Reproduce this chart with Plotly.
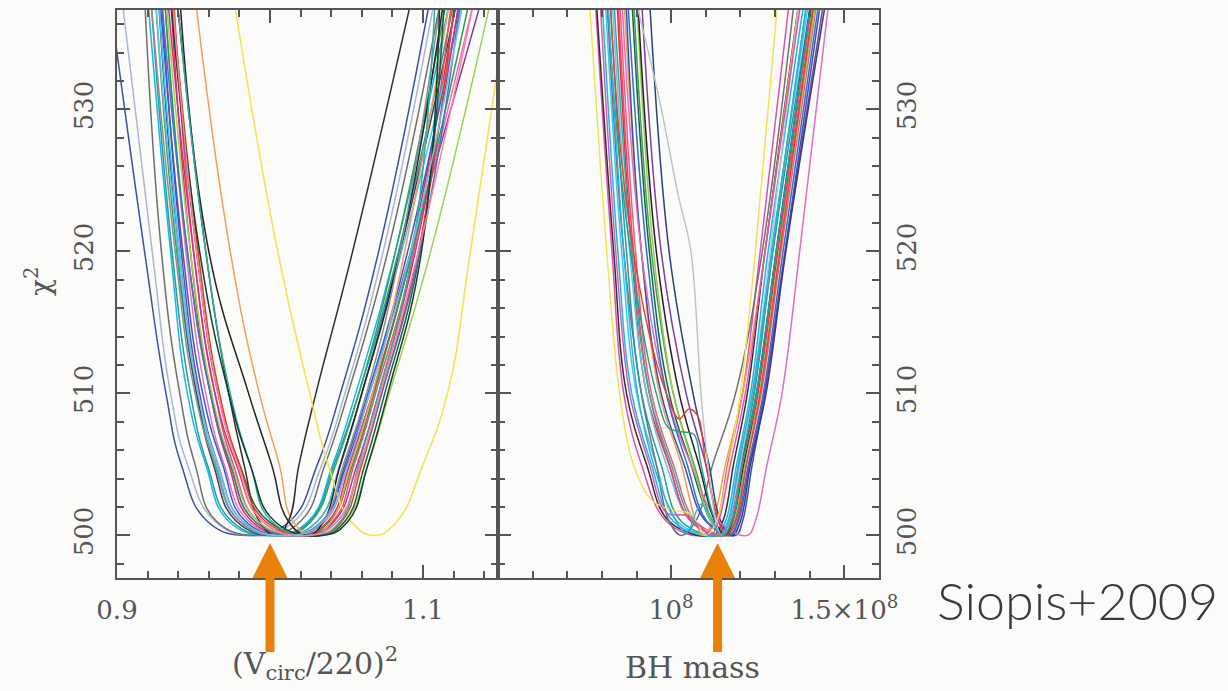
import plotly.graph_objects as go

# chi^2 levels at which each curve's position was read (left arm -> minimum -> right arm)
LEVELS = [538, 520, 510, 505, 501, 500, 501, 505, 510, 520, 538]

# ---------- Left panel: (V_circ/220)^2 ----------
L01 = [0.895, 0.918, 0.932, 0.942, 0.959, 0.986, 1.013, 1.031, 1.046, 1.071, 1.105]
L02 = [0.903, 0.923, 0.935, 0.946, 0.964, 0.990, 1.016, 1.034, 1.049, 1.074, 1.108]
L03 = [0.918, 0.929, 0.941, 0.951, 0.965, 0.995, 1.020, 1.036, 1.051, 1.077, 1.112]
L04 = [0.920, 0.935, 0.946, 0.958, 0.973, 1.001, 1.025, 1.041, 1.056, 1.082, 1.118]
L05 = [0.922, 0.936, 0.948, 0.959, 0.975, 1.004, 1.026, 1.042, 1.058, 1.084, 1.121]
L06 = [0.925, 0.939, 0.952, 0.964, 0.980, 1.008, 1.027, 1.043, 1.058, 1.082, 1.116]
L07 = [0.927, 0.940, 0.952, 0.963, 0.978, 1.007, 1.031, 1.046, 1.060, 1.085, 1.123]
L08 = [0.929, 0.942, 0.954, 0.966, 0.982, 1.010, 1.034, 1.050, 1.065, 1.092, 1.139]
L09 = [0.931, 0.945, 0.958, 0.970, 0.986, 1.014, 1.036, 1.051, 1.067, 1.093, 1.134]
L10 = [0.935, 0.948, 0.961, 0.973, 0.988, 1.017, 1.038, 1.052, 1.067, 1.092, 1.122]
L11 = [0.937, 0.950, 0.964, 0.976, 0.992, 1.020, 1.041, 1.055, 1.069, 1.094, 1.119]
L12 = [0.928, 0.943, 0.956, 0.969, 0.984, 1.014, 1.035, 1.049, 1.064, 1.090, 1.125]
L13 = [0.927, 0.941, 0.953, 0.965, 0.980, 1.009, 1.031, 1.046, 1.060, 1.086, 1.127]
L14 = [0.931, 0.946, 0.961, 0.974, 0.990, 1.020, 1.039, 1.054, 1.068, 1.093, 1.131]
L15 = [0.933, 0.950, 0.964, 0.978, 0.995, 1.023, 1.042, 1.057, 1.071, 1.095, 1.124]
L16 = [0.951, 0.974, 0.993, 1.006, 1.015, 1.028, 1.040, 1.053, 1.067, 1.088, 1.118]
L17 = [0.941, 0.960, 0.986, 1.001, 1.012, 1.025, 1.035, 1.046, 1.060, 1.085, 1.114]
L18 = [0.939, 0.958, 0.973, 0.983, 0.993, 1.004, 1.012, 1.019, 1.030, 1.054, 1.093]
L19 = [0.976, 1.005, 1.026, 1.038, 1.053, 1.068, 1.083, 1.100, 1.116, 1.131, 1.156]
L20 = [0.932, 0.948, 0.962, 0.975, 0.992, 1.026, 1.049, 1.064, 1.078, 1.105, 1.145]
L21 = [0.935, 0.952, 0.966, 0.980, 0.999, 1.033, 1.049, 1.062, 1.075, 1.098, 1.114]
L22 = [0.922, 0.938, 0.951, 0.964, 0.980, 1.012, 1.034, 1.048, 1.063, 1.085, 1.112]
L23 = [0.936, 0.953, 0.967, 0.980, 0.997, 1.031, 1.047, 1.060, 1.073, 1.097, 1.121]
L24 = [0.929, 0.946, 0.961, 0.974, 0.990, 1.023, 1.044, 1.059, 1.073, 1.098, 1.125]
L25 = [0.939, 0.958, 0.974, 0.987, 1.001, 1.029, 1.046, 1.058, 1.071, 1.093, 1.108]
L26 = [0.935, 0.954, 0.973, 0.987, 1.003, 1.034, 1.051, 1.064, 1.077, 1.099, 1.111]
L27 = [0.925, 0.940, 0.953, 0.966, 0.982, 1.013, 1.035, 1.051, 1.065, 1.092, 1.127]
L28 = [0.936, 0.952, 0.966, 0.979, 0.995, 1.025, 1.044, 1.059, 1.072, 1.097, 1.134]

LEFT_CURVES = [L01, L02, L03, L04, L05, L06, L07, L08, L09, L10, L11, L12, L13, L14,
               L15, L16, L17, L18, L19, L20, L21, L22, L23, L24, L25, L26, L27, L28]
LEFT_COLORS = ["#3b4fa6", "#a9b8d0", "#6f6f6f", "#1fb4e6", "#1f9ea0", "#2fa65e",
               "#3e3e5e", "#7d3f9e", "#ef6fbf", "#e0303f", "#f0505f", "#2f5fcf",
               "#3fc6ef", "#1f9f4f", "#cf2f8f", "#f0a060", "#2a2020", "#303030",
               "#f2e24e", "#9fcf5f", "#1f5f3f", "#8f8f8f", "#e0401f", "#4f6fbf",
               "#2fae9f", "#0f3f2f", "#6fbfef", "#ff7f9f"]

# ---------- Right panel: BH mass (units of 1e8) ----------
R01 = [0.780, 0.829, 0.863, 0.914, 0.986, 1.086, 1.129, 1.163, 1.206, 1.257, 1.343]
R02 = [0.783, 0.834, 0.871, 0.929, 0.994, 1.120, 1.149, 1.180, 1.220, 1.271, 1.371]
R03 = [0.800, 0.846, 0.886, 0.943, 1.006, 1.129, 1.157, 1.189, 1.229, 1.280, 1.386]
R04 = [0.809, 0.857, 0.900, 0.957, 1.017, 1.137, 1.163, 1.194, 1.234, 1.289, 1.400]
R05 = [0.814, 0.863, 0.914, 0.957, 0.994, 1.029, 1.071, 1.120, 1.186, 1.263, 1.357]
R06 = [0.823, 0.871, 0.914, 0.971, 1.029, 1.143, 1.171, 1.200, 1.240, 1.294, 1.406]
R07 = [0.843, 0.886, 0.929, 0.994, 1.057, 1.157, 1.177, 1.209, 1.251, 1.309, 1.414]
R08 = [0.851, 0.897, 0.943, 1.006, 1.071, 1.166, 1.186, 1.217, 1.260, 1.317, 1.423]
R09 = [0.863, 0.914, 0.966, 1.029, 1.071, 1.091, 1.120, 1.157, 1.206, 1.271, 1.371]
R10 = [0.869, 0.914, 0.971, 1.037, 1.100, 1.186, 1.206, 1.234, 1.271, 1.329, 1.434]
R11 = [0.886, 0.937, 0.994, 1.057, 1.114, 1.149, 1.171, 1.203, 1.246, 1.303, 1.406]
R12 = [0.891, 0.943, 1.006, 1.066, 1.120, 1.160, 1.183, 1.211, 1.251, 1.311, 1.417]
R13 = [0.914, 0.971, 1.043, 1.100, 1.137, 1.171, 1.194, 1.226, 1.269, 1.329, 1.443]
R14 = [0.937, 0.994, 1.063, 1.109, 1.143, 1.177, 1.200, 1.229, 1.274, 1.331, 1.449]
R15 = [0.857, 0.914, 0.986, 1.057, 1.137, 1.220, 1.243, 1.277, 1.320, 1.371, 1.457]
R16 = [0.829, 0.880, 0.929, 0.986, 1.057, 1.149, 1.171, 1.206, 1.249, 1.306, 1.411]
R17 = [0.900, 0.949, 1.006, 1.063, 1.114, 1.154, 1.180, 1.211, 1.254, 1.311, 1.420]
R18 = [0.874, 0.929, 0.986, 1.046, 1.103, 1.171, 1.191, 1.223, 1.266, 1.323, 1.429]
R19 = [0.903, 0.957, 1.023, 1.080, 1.126, 1.157, 1.177, 1.209, 1.249, 1.306, 1.406]
R20 = [0.846, 0.891, 0.937, 0.994, 1.057, 1.151, 1.174, 1.206, 1.249, 1.306, 1.409]
R21 = [0.834, 0.886, 0.937, 1.000, 1.063, 1.140, 1.166, 1.197, 1.237, 1.291, 1.394]

RIGHT_CURVES = [R01, R02, R03, R04, R05, R06, R07, R08, R09, R10, R11,
                R12, R13, R14, R15, R16, R17, R18, R19, R20, R21]
RIGHT_COLORS = ["#e050b0", "#303030", "#1fb4e6", "#3fc6ef", "#707070", "#1f9ea0",
                "#e0302f", "#f06070", "#f0a050", "#3a50b0", "#1f5f3f", "#2fa65e",
                "#7f3f9f", "#2f3f7f", "#e06fbf", "#6fbfef", "#9fc74f", "#2f6fcf",
                "#202020", "#ef3f7f", "#2fae9f"]

# irregular right-panel curves, read point by point (x in 1e8, chi^2)
RS_RED_X = [0.823, 0.863, 0.929, 0.986, 1.023, 1.051, 1.077, 1.100, 1.131, 1.157, 1.186, 1.217, 1.257, 1.314, 1.414]
RS_RED_Y = [538, 525, 515, 510, 508.2, 508.9, 508.4, 505, 501.5, 500, 501, 505, 510, 520, 538]
RS_TEAL_X = [0.814, 0.857, 0.914, 0.957, 0.991, 1.029, 1.066, 1.086, 1.120, 1.149, 1.177, 1.206, 1.246, 1.303, 1.406]
RS_TEAL_Y = [538, 525, 515, 510, 507.6, 507.3, 507.1, 505, 501.5, 500, 501, 505, 510, 520, 538]
RS_YELLOW_X = [0.763, 0.814, 0.851, 0.891, 0.943, 1.000, 1.057, 1.100, 1.131, 1.166, 1.200, 1.243, 1.309]
RS_YELLOW_Y = [538, 520, 510, 505, 502.5, 501.8, 501.5, 500, 501, 505, 510, 520, 538]
RS_GRAY_X = [0.894, 0.963, 1.020, 1.057, 1.086, 1.106, 1.129, 1.143, 1.166, 1.200, 1.234, 1.286, 1.371]
RS_GRAY_Y = [538, 531, 524, 520, 510, 505, 501, 500, 501, 505, 510, 520, 538]
RS_MAG_X = [0.794, 0.840, 0.880, 0.937, 0.986, 1.043, 1.086, 1.114, 1.137, 1.171, 1.214, 1.271, 1.377]
RS_MAG_Y = [538, 520, 510, 505, 501.6, 501.4, 500.6, 500, 501, 505, 510, 520, 538]
RS_CYAN_X = [0.817, 0.863, 0.903, 0.949, 0.994, 1.043, 1.086, 1.120, 1.143, 1.166, 1.194, 1.234, 1.291, 1.394]
RS_CYAN_Y = [538, 520, 510, 505, 502, 500.2, 502.2, 501, 500, 501, 505, 510, 520, 538]
RIGHT_SPECIAL = [(RS_RED_X, RS_RED_Y, "#e8402a"), (RS_TEAL_X, RS_TEAL_Y, "#1f9f8f"),
                 (RS_YELLOW_X, RS_YELLOW_Y, "#f2e24e"), (RS_GRAY_X, RS_GRAY_Y, "#b8c2cc"),
                 (RS_MAG_X, RS_MAG_Y, "#e04fb0"), (RS_CYAN_X, RS_CYAN_Y, "#30b0e0")]

# tick values / labels
LEFT_TICKS = [0.9, 1.0, 1.1]
LEFT_TICKTEXT = ["0.9", "", "1.1"]
RIGHT_TICKS = [0.5e8, 1.0e8, 1.5e8]
RIGHT_TICKTEXT = ["", "10<sup>8</sup>", "1.5×10<sup>8</sup>"]
Y_TICKS = [500, 510, 520, 530]
ARROW_X = [1.0, 1.134e8]

AX = "#555555"
TICKFONT = dict(family="DejaVu Serif", size=26, color="#555555")
fig = go.Figure()

for xs, col in zip(LEFT_CURVES, LEFT_COLORS):
    fig.add_trace(go.Scatter(x=xs, y=LEVELS, mode="lines", xaxis="x", yaxis="y",
                             line=dict(color=col, width=1.5, shape="spline", smoothing=1.3),
                             hoverinfo="skip", showlegend=False))
for xs, col in zip(RIGHT_CURVES, RIGHT_COLORS):
    fig.add_trace(go.Scatter(x=[v * 1e8 for v in xs], y=LEVELS, mode="lines", xaxis="x2", yaxis="y2",
                             line=dict(color=col, width=1.5, shape="spline", smoothing=1.1),
                             hoverinfo="skip", showlegend=False))
for xs, ys, col in RIGHT_SPECIAL:
    fig.add_trace(go.Scatter(x=[v * 1e8 for v in xs], y=ys, mode="lines", xaxis="x2", yaxis="y2",
                             line=dict(color=col, width=1.4, shape="spline", smoothing=1.0),
                             hoverinfo="skip", showlegend=False))

common = dict(showline=True, linecolor=AX, linewidth=2, mirror="ticks", ticks="inside",
              ticklen=13, tickwidth=1.5, tickcolor=AX, showgrid=False, zeroline=False,
              tickfont=TICKFONT, automargin=False)
ydom = [1 - 578 / 691, 1 - 10 / 691]
fig.update_layout(
    xaxis=dict(domain=[117 / 1228, 498 / 1228], range=[0.9, 1.149], tickvals=LEFT_TICKS,
               ticktext=LEFT_TICKTEXT, anchor="y", ticklabelstandoff=8,
               minor=dict(dtick=0.02, ticks="inside", ticklen=7, tickwidth=1.5, tickcolor=AX), **common),
    xaxis2=dict(domain=[498 / 1228, 879 / 1228], range=[0.5e8, 1.6e8], tickvals=RIGHT_TICKS,
                ticktext=RIGHT_TICKTEXT, anchor="y2", ticklabelstandoff=8,
                minor=dict(dtick=1e7, ticks="inside", ticklen=7, tickwidth=1.5, tickcolor=AX), **common),
    yaxis=dict(domain=ydom, range=[497, 537], tickvals=Y_TICKS, anchor="x", tickangle=-90,
               ticklabelstandoff=12,
               minor=dict(dtick=2, ticks="inside", ticklen=7, tickwidth=1.5, tickcolor=AX), **common),
    yaxis2=dict(domain=ydom, range=[497, 537], tickvals=Y_TICKS, anchor="x2", side="right",
                tickangle=-90, ticklabelstandoff=4,
                minor=dict(dtick=2, ticks="inside", ticklen=7, tickwidth=1.5, tickcolor=AX), **common),
    width=1228, height=691, autosize=False,
    margin=dict(l=0, r=0, t=0, b=0),
    paper_bgcolor="#fbfbf9", plot_bgcolor="#fbfbf9",
    showlegend=False,
)

arrow_path = "M -17.5 0 L 0 35 L 17.5 0 L 4.5 0 L 4.5 -74 L -4.5 -74 L -4.5 0 Z"
for xr, xa in zip(["x", "x2"], ARROW_X):
    fig.add_shape(type="path", xref=xr, yref="paper", xsizemode="pixel", ysizemode="pixel",
                  xanchor=xa, yanchor=ydom[0], path=arrow_path,
                  fillcolor="#e8800a", line=dict(width=0), layer="above")

fig.add_annotation(text="(V<sub>circ</sub>/220)<sup>2</sup>", x=315 / 1228, y=1 - 663 / 691,
                   xref="paper", yref="paper", xanchor="center", yanchor="middle", showarrow=False,
                   font=dict(family="DejaVu Serif", size=30, color="#555555"))
fig.add_annotation(text="BH mass", x=692 / 1228, y=1 - 667 / 691, xref="paper", yref="paper",
                   xanchor="center", yanchor="middle", showarrow=False,
                   font=dict(family="DejaVu Serif", size=30, color="#555555"))
fig.add_annotation(text="χ<sup>2</sup>", x=38 / 1228, y=1 - 282 / 691, xref="paper", yref="paper",
                   xanchor="center", yanchor="middle", showarrow=False, textangle=-90,
                   font=dict(family="DejaVu Serif", size=28, color="#555555"))
fig.add_annotation(text="Siopis+2009", x=1077 / 1228, y=1 - 600 / 691, xref="paper", yref="paper",
                   xanchor="center", yanchor="middle", showarrow=False,
                   font=dict(family="Lato", size=52, color="#3a3a3a", weight=300))

fig.write_html("out.html")
